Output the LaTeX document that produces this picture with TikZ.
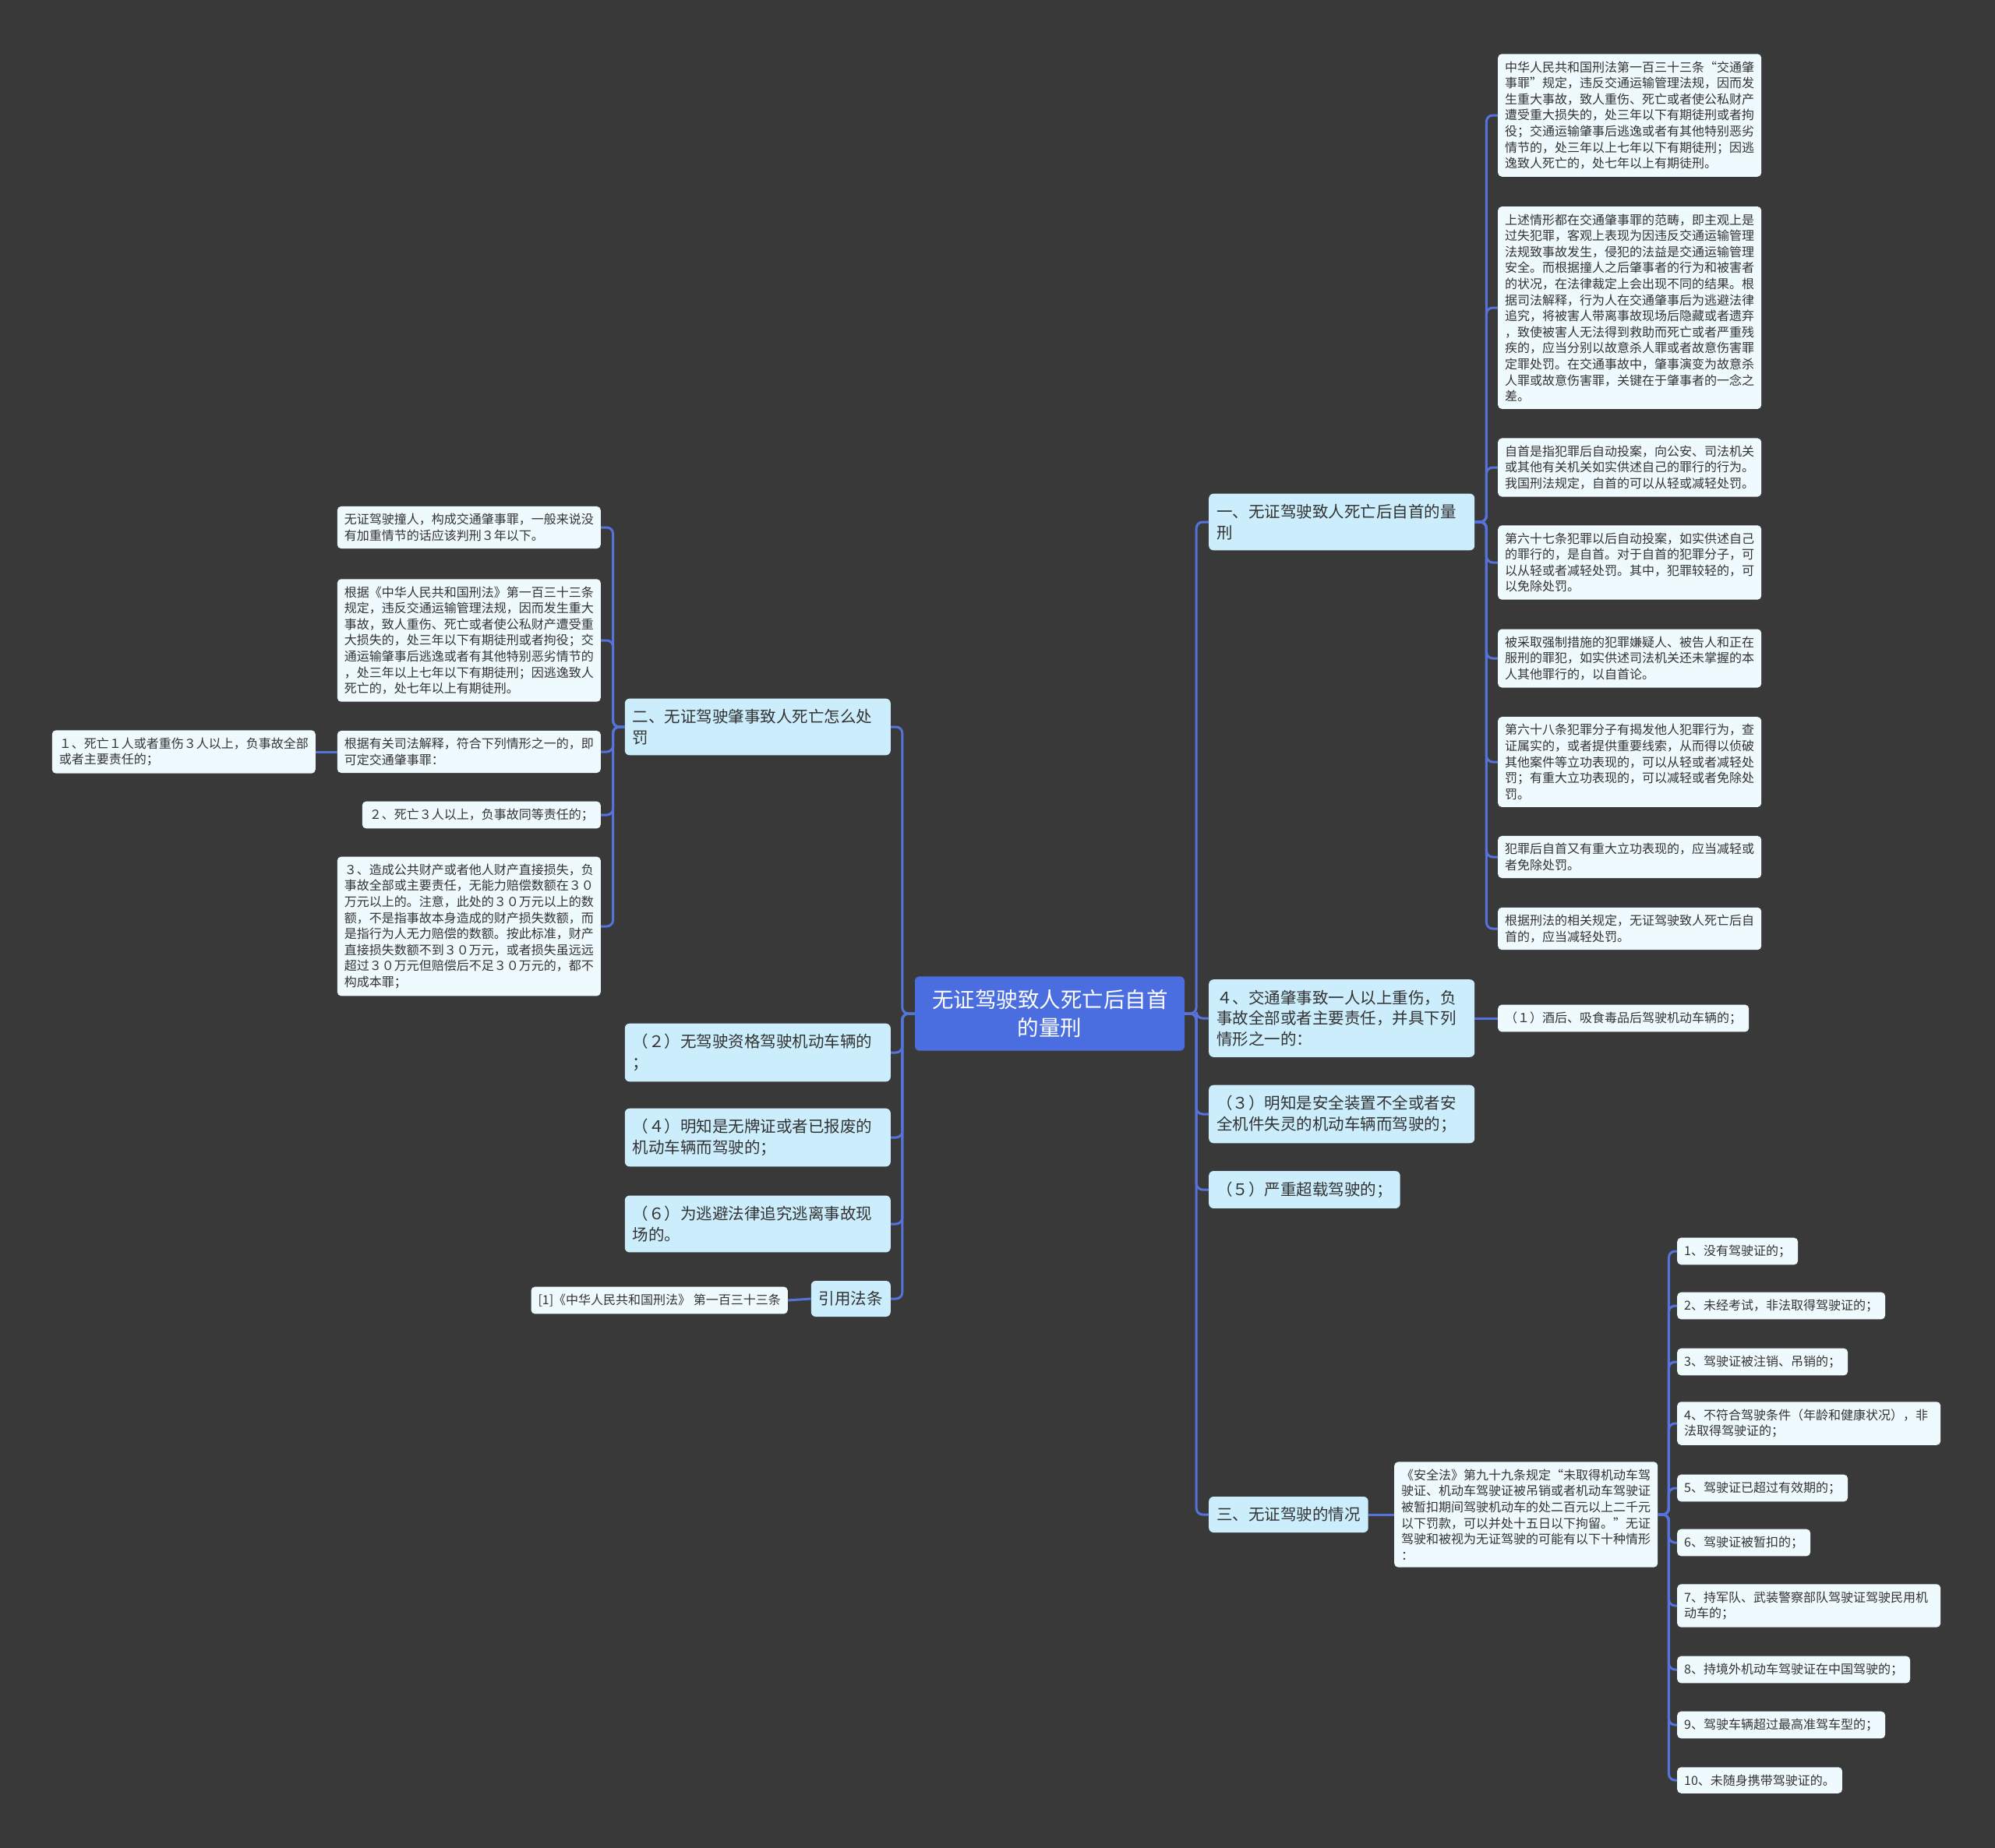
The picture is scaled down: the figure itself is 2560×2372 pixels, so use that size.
\documentclass[tikz,border=0pt]{standalone}
\usepackage{fontspec}
\setmainfont{Noto Sans CJK SC}
\definecolor{bg}{HTML}{3A3939}
\definecolor{rootc}{HTML}{4A6EE0}
\definecolor{lvc}{HTML}{CBEDFC}
\definecolor{leafc}{HTML}{EFFAFE}
\definecolor{linec}{HTML}{5573DA}
\definecolor{txt}{HTML}{333333}
\tikzset{
 rootbox/.style={fill=rootc, rounded corners=6pt, text=white, align=center, text width=302pt, inner xsep=22pt, inner ysep=17pt, font=\fontsize{27.5}{36}\selectfont},
 lvbox/.style={fill=lvc, rounded corners=6pt, text=txt, align=left, inner xsep=10pt, inner ysep=13.5pt, font=\fontsize{20.5}{26.7}\selectfont},
 leafbox/.style={fill=leafc, rounded corners=5pt, text=txt, align=left, inner xsep=9pt, inner ysep=9.3pt, font=\fontsize{16}{20.6}\selectfont},
 conn/.style={draw=linec, line width=3pt, rounded corners=8pt},
}
\begin{document}
\begin{tikzpicture}[x=1pt,y=-1pt]
\fill[bg] (0,0) rectangle (2560,2372);
\useasboundingbox (0,0) rectangle (2560,2372);

% root
\node[rootbox] (root) at (1347,1301) {无证驾驶致人死亡后自首\\的量刑};

% right level 1
\node[lvbox, text width=321pt, anchor=west] (r1) at (1551,670) {一、无证驾驶致人死亡后自首的量\\刑};
\node[lvbox, text width=321pt, anchor=west] (r2) at (1551,1307) {４、交通肇事致一人以上重伤，负\\事故全部或者主要责任，并具下列\\情形之一的：};
\node[lvbox, text width=321pt, anchor=west] (r3) at (1551,1430) {（３）明知是安全装置不全或者安\\全机件失灵的机动车辆而驾驶的；};
\node[lvbox, anchor=west] (r4) at (1551,1527) {（５）严重超载驾驶的；};
\node[lvbox, anchor=west] (r5) at (1551,1944) {三、无证驾驶的情况};

% left level 1
\node[lvbox, text width=321pt, anchor=east] (l1) at (1143,933) {二、无证驾驶肇事致人死亡怎么处\\罚};
\node[lvbox, text width=321pt, anchor=east] (l2) at (1143,1351) {（２）无驾驶资格驾驶机动车辆的\\；};
\node[lvbox, text width=321pt, anchor=east] (l3) at (1143,1460) {（４）明知是无牌证或者已报废的\\机动车辆而驾驶的；};
\node[lvbox, text width=321pt, anchor=east] (l4) at (1143,1571) {（６）为逃避法律追究逃离事故现\\场的。};
\node[lvbox, anchor=east] (l5) at (1143,1667) {引用法条};

% children of r1
\node[leafbox, text width=320pt, anchor=west] (c1) at (1922,148) {中华人民共和国刑法第一百三十三条“交通肇\\事罪”规定，违反交通运输管理法规，因而发\\生重大事故，致人重伤、死亡或者使公私财产\\遭受重大损失的，处三年以下有期徒刑或者拘\\役；交通运输肇事后逃逸或者有其他特别恶劣\\情节的，处三年以上七年以下有期徒刑；因逃\\逸致人死亡的，处七年以上有期徒刑。};
\node[leafbox, text width=320pt, anchor=west] (c2) at (1922,395) {上述情形都在交通肇事罪的范畴，即主观上是\\过失犯罪，客观上表现为因违反交通运输管理\\法规致事故发生，侵犯的法益是交通运输管理\\安全。而根据撞人之后肇事者的行为和被害者\\的状况，在法律裁定上会出现不同的结果。根\\据司法解释，行为人在交通肇事后为逃避法律\\追究，将被害人带离事故现场后隐藏或者遗弃\\，致使被害人无法得到救助而死亡或者严重残\\疾的，应当分别以故意杀人罪或者故意伤害罪\\定罪处罚。在交通事故中，肇事演变为故意杀\\人罪或故意伤害罪，关键在于肇事者的一念之\\差。};
\node[leafbox, text width=320pt, anchor=west] (c3) at (1922,600) {自首是指犯罪后自动投案，向公安、司法机关\\或其他有关机关如实供述自己的罪行的行为。\\我国刑法规定，自首的可以从轻或减轻处罚。};
\node[leafbox, text width=320pt, anchor=west] (c4) at (1922,722) {第六十七条犯罪以后自动投案，如实供述自己\\的罪行的，是自首。对于自首的犯罪分子，可\\以从轻或者减轻处罚。其中，犯罪较轻的，可\\以免除处罚。};
\node[leafbox, text width=320pt, anchor=west] (c5) at (1922,845) {被采取强制措施的犯罪嫌疑人、被告人和正在\\服刑的罪犯，如实供述司法机关还未掌握的本\\人其他罪行的，以自首论。};
\node[leafbox, text width=320pt, anchor=west] (c6) at (1922,978) {第六十八条犯罪分子有揭发他人犯罪行为，查\\证属实的，或者提供重要线索，从而得以侦破\\其他案件等立功表现的，可以从轻或者减轻处\\罚；有重大立功表现的，可以减轻或者免除处\\罚。};
\node[leafbox, text width=320pt, anchor=west] (c7) at (1922,1100) {犯罪后自首又有重大立功表现的，应当减轻或\\者免除处罚。};
\node[leafbox, text width=320pt, anchor=west] (c8) at (1922,1192) {根据刑法的相关规定，无证驾驶致人死亡后自\\首的，应当减轻处罚。};

% child of r2
\node[leafbox, anchor=west] (d1) at (1922,1307) {（１）酒后、吸食毒品后驾驶机动车辆的；};

% children of r5
\node[leafbox, text width=320pt, anchor=west] (s0) at (1789,1944) {《安全法》第九十九条规定“未取得机动车驾\\驶证、机动车驾驶证被吊销或者机动车驾驶证\\被暂扣期间驾驶机动车的处二百元以上二千元\\以下罚款，可以并处十五日以下拘留。”无证\\驾驶和被视为无证驾驶的可能有以下十种情形\\：};
\node[leafbox, anchor=west] (s1) at (2152,1606) {1、没有驾驶证的；};
\node[leafbox, anchor=west] (s2) at (2152,1676) {2、未经考试，非法取得驾驶证的；};
\node[leafbox, anchor=west] (s3) at (2152,1748) {3、驾驶证被注销、吊销的；};
\node[leafbox, text width=320pt, anchor=west] (s4) at (2152,1827) {4、不符合驾驶条件（年龄和健康状况），非\\法取得驾驶证的；};
\node[leafbox, anchor=west] (s5) at (2152,1910) {5、驾驶证已超过有效期的；};
\node[leafbox, anchor=west] (s6) at (2152,1980) {6、驾驶证被暂扣的；};
\node[leafbox, text width=320pt, anchor=west] (s7) at (2152,2061) {7、持军队、武装警察部队驾驶证驾驶民用机\\动车的；};
\node[leafbox, anchor=west] (s8) at (2152,2143) {8、持境外机动车驾驶证在中国驾驶的；};
\node[leafbox, anchor=west] (s9) at (2152,2214) {9、驾驶车辆超过最高准驾车型的；};
\node[leafbox, anchor=west] (s10) at (2152,2285) {10、未随身携带驾驶证的。};

% children of l1
\node[leafbox, text width=320pt, anchor=east] (a1) at (771,677) {无证驾驶撞人，构成交通肇事罪，一般来说没\\有加重情节的话应该判刑３年以下。};
\node[leafbox, text width=320pt, anchor=east] (a2) at (771,822) {根据《中华人民共和国刑法》第一百三十三条\\规定，违反交通运输管理法规，因而发生重大\\事故，致人重伤、死亡或者使公私财产遭受重\\大损失的，处三年以下有期徒刑或者拘役；交\\通运输肇事后逃逸或者有其他特别恶劣情节的\\，处三年以上七年以下有期徒刑；因逃逸致人\\死亡的，处七年以上有期徒刑。};
\node[leafbox, text width=320pt, anchor=east] (a3) at (771,965) {根据有关司法解释，符合下列情形之一的，即\\可定交通肇事罪：};
\node[leafbox, anchor=east] (a4) at (771,1046) {２、死亡３人以上，负事故同等责任的；};
\node[leafbox, text width=320pt, anchor=east] (a5) at (771,1189) {３、造成公共财产或者他人财产直接损失，负\\事故全部或主要责任，无能力赔偿数额在３０\\万元以上的。注意，此处的３０万元以上的数\\额，不是指事故本身造成的财产损失数额，而\\是指行为人无力赔偿的数额。按此标准，财产\\直接损失数额不到３０万元，或者损失虽远远\\超过３０万元但赔偿后不足３０万元的，都不\\构成本罪；};
\node[leafbox, text width=320pt, anchor=east] (b1) at (405,965) {１、死亡１人或者重伤３人以上，负事故全部\\或者主要责任的；};
\node[leafbox, anchor=east] (e1) at (1011,1669) {[1]《中华人民共和国刑法》 第一百三十三条};

% connectors
\foreach \n in {r1,r2,r3,r4,r5} \draw[conn] (root.east) -- ++(15,0) |- (\n.west);
\foreach \n in {l1,l2,l3,l4,l5} \draw[conn] (root.west) -- ++(-16,0) |- (\n.east);
\foreach \n in {c1,c2,c3,c4,c5,c6,c7,c8} \draw[conn] (r1.east) -- ++(15,0) |- (\n.west);
\draw[conn] (r2.east) -- (d1.west);
\draw[conn] (r5.east) -- (s0.west);
\foreach \n in {s1,s2,s3,s4,s5,s6,s7,s8,s9,s10} \draw[conn] (s0.east) -- ++(14,0) |- (\n.west);
\foreach \n in {a1,a2,a3,a4,a5} \draw[conn] (l1.west) -- ++(-15,0) |- (\n.east);
\draw[conn] (a3.west) -- (b1.east);
\draw[conn] (l5.west) -- (e1.east);
\end{tikzpicture}
\end{document}
